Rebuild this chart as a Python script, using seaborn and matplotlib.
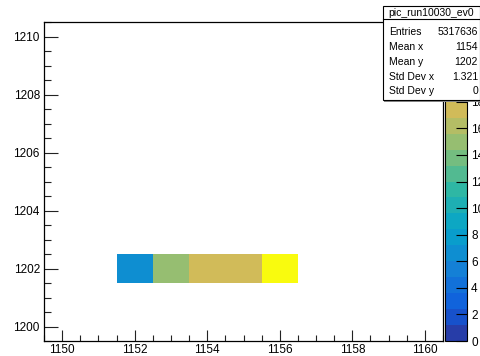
import numpy as np
import pandas as pd
import matplotlib
matplotlib.use("Agg")
import matplotlib.pyplot as plt
from matplotlib.colors import LinearSegmentedColormap, ListedColormap
from matplotlib.patches import Rectangle
from matplotlib.lines import Line2D
from matplotlib.ticker import MultipleLocator
import seaborn as sns

# ---- data ----
x_bin = [1152, 1153, 1154, 1155, 1156]
y_bin = [1202, 1202, 1202, 1202, 1202]
content = [6.5, 15.0, 17.5, 17.5, 24.0]

x_ticks = [1150, 1152, 1154, 1156, 1158, 1160]
y_ticks = [1200, 1202, 1204, 1206, 1208, 1210]
z_ticks = [0, 2, 4, 6, 8, 10, 12, 14, 16, 18, 20, 22, 24]
z_labels = ["0", "2", "4", "6", "8", "10", "12", "14", "16", "18", "", "", ""]

stats_title = "pic_run10030_ev0"
stats_names = ["Entries", "Mean x", "Mean y", "Std Dev x", "Std Dev y"]
stats_values = ["5317636", "1154", "1202", "1.321", "0"]

# ---- ROOT kBird palette, 20 contour levels ----
stops = [0.0, 0.125, 0.25, 0.375, 0.5, 0.625, 0.75, 0.875, 1.0]
red = [0.2082, 0.0592, 0.0780, 0.0232, 0.1802, 0.5301, 0.8186, 0.9956, 0.9764]
green = [0.1664, 0.3599, 0.5041, 0.6419, 0.7178, 0.7492, 0.7328, 0.7862, 0.9832]
blue = [0.5293, 0.8684, 0.8385, 0.7914, 0.6425, 0.4662, 0.3499, 0.1968, 0.0539]
bird = LinearSegmentedColormap.from_list(
    "bird", [(s, (r, g, b)) for s, r, g, b in zip(stops, red, green, blue)], N=255)
nlev = 20
cmap = ListedColormap([bird(min(1.0, (i + 0.99) / nlev)) for i in range(nlev)])

plt.rcParams["font.family"] = ["Liberation Sans", "DejaVu Sans"]

W, H = 481, 356
fig = plt.figure(figsize=(W / 100, H / 100), dpi=100)

def fx(px):
    return px / W

def fy(py):
    return 1 - py / H

ax = fig.add_axes([fx(44), fy(341), fx(443) - fx(44), fy(22) - fy(341)])
cax = fig.add_axes([fx(445), fy(341), fx(467) - fx(445), fy(22) - fy(341)])

df = pd.DataFrame({"x": x_bin, "y": y_bin, "w": content})
sns.histplot(data=df, x="x", y="y", weights="w", binwidth=1,
             binrange=((1149.5, 1160.5), (1199.5, 1210.5)),
             cmap=cmap, vmin=0, vmax=24, cbar=True, cbar_ax=cax, ax=ax)

ax.set_xlim(1149.5, 1160.5)
ax.set_ylim(1199.5, 1210.5)
ax.set_xlabel("")
ax.set_ylabel("")
ax.set_xticks(x_ticks)
ax.set_yticks(y_ticks)
ax.xaxis.set_minor_locator(MultipleLocator(0.5))
ax.yaxis.set_minor_locator(MultipleLocator(0.5))
ax.tick_params(axis="both", which="both", direction="in", labelsize=8.5,
               width=0.8, colors="#222222", labelcolor="black")
ax.tick_params(axis="x", which="major", length=8, pad=2)
ax.tick_params(axis="x", which="minor", length=4)
ax.tick_params(axis="y", which="major", length=10, pad=3)
ax.tick_params(axis="y", which="minor", length=5)
for sp in ax.spines.values():
    sp.set_linewidth(0.9)

cax.set_yticks(z_ticks)
cax.set_yticklabels(z_labels)
cax.yaxis.set_ticks_position("right")
cax.tick_params(axis="y", which="major", direction="in", length=8, width=0.8,
                labelsize=8.5, pad=3)
cax.minorticks_off()

# ---- stats box ----
bx0, bx1, by0, by1 = 383, 480, 6, 100
fig.add_artist(Rectangle((fx(bx0) + 1.5 / W, fy(by1) - 1.5 / H), fx(bx1) - fx(bx0), fy(by0) - fy(by1),
                         transform=fig.transFigure, facecolor="#888888",
                         edgecolor="none", zorder=9))
fig.add_artist(Rectangle((fx(bx0), fy(by1)), fx(bx1) - fx(bx0), fy(by0) - fy(by1),
                         transform=fig.transFigure, facecolor="white",
                         edgecolor="black", linewidth=0.8, zorder=10))
fig.add_artist(Line2D([fx(bx0), fx(bx1)], [fy(19), fy(19)], transform=fig.transFigure,
                      color="black", linewidth=0.8, zorder=11))
fig.text(fx((bx0 + bx1) / 2), fy(12.5), stats_title, ha="center", va="center",
         fontsize=7.5, zorder=12)
row_y = [32, 47, 62, 77, 91]
for yy, name, val in zip(row_y, stats_names, stats_values):
    fig.text(fx(389), fy(yy), name, ha="left", va="center", fontsize=7.5, zorder=12)
    fig.text(fx(478), fy(yy), val, ha="right", va="center", fontsize=7.5, zorder=12)

fig.savefig("out.png", dpi=100)
